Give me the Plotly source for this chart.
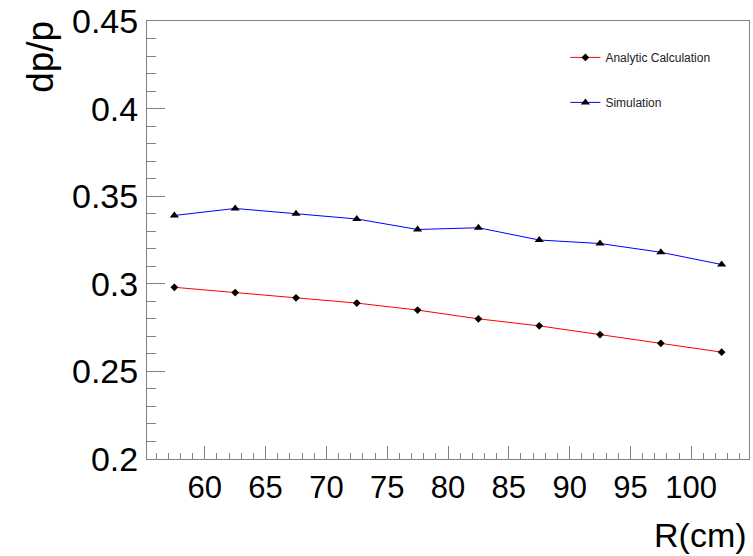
import plotly.graph_objects as go

# Momentum resolution versus radius
radius_cm = [57.5, 62.5, 67.5, 72.5, 77.5, 82.5, 87.5, 92.5, 97.5, 102.5]
analytic_dpp = [0.298, 0.295, 0.292, 0.289, 0.285, 0.280, 0.276, 0.271, 0.266, 0.261]
simulation_dpp = [0.339, 0.343, 0.340, 0.337, 0.331, 0.332, 0.325, 0.323, 0.318, 0.311]

x_range = [55.25, 104.75]
y_range = [0.2, 0.45]
x_ticks = [60, 65, 70, 75, 80, 85, 90, 95, 100]
y_ticks = [0.2, 0.25, 0.3, 0.35, 0.4, 0.45]
y_tick_text = ["0.2", "0.25", "0.3", "0.35", "0.4", "0.45"]

FONT = "Liberation Sans, Arial, Helvetica, sans-serif"
AXIS_COLOR = "#808080"

fig = go.Figure()

fig.add_trace(go.Scatter(
    x=radius_cm, y=analytic_dpp, mode="lines+markers",
    name="Analytic Calculation", legendgroup="a",
    line=dict(color="#ff0000", width=1),
    marker=dict(symbol="diamond", size=6, color="black"),
))
fig.add_trace(go.Scatter(
    x=radius_cm, y=simulation_dpp, mode="lines+markers",
    name="Simulation", legendgroup="s",
    line=dict(color="#0000ff", width=1),
    marker=dict(symbol="triangle-up", size=8, color="black"),
))

fig.update_layout(
    width=753, height=556,
    margin=dict(l=147, r=4, t=21, b=97),
    paper_bgcolor="white", plot_bgcolor="white",
    font=dict(family=FONT, color="black"),
    showlegend=True,
    legend=dict(
        x=0.695, y=0.95, xanchor="left", yanchor="top",
        bgcolor="rgba(0,0,0,0)", borderwidth=0,
        font=dict(size=12, color="#222"),
        traceorder="grouped", tracegroupgap=26,
        itemwidth=30,
    ),
)

fig.update_xaxes(
    range=x_range, tickmode="array", tickvals=x_ticks,
    ticks="inside", ticklen=13, tickcolor=AXIS_COLOR, tickwidth=1,
    minor=dict(dtick=1, ticks="inside", ticklen=6, tickcolor=AXIS_COLOR, tickwidth=1),
    showline=True, linecolor=AXIS_COLOR, linewidth=1, mirror=True,
    showgrid=False, zeroline=False, automargin=False,
    tickfont=dict(size=31, family=FONT, color="black"),
    ticklabelstandoff=1,
)
fig.update_yaxes(
    range=y_range, tickmode="array", tickvals=y_ticks, ticktext=y_tick_text,
    ticks="inside", ticklen=18, tickcolor=AXIS_COLOR, tickwidth=1,
    minor=dict(dtick=0.01, ticks="inside", ticklen=9, tickcolor=AXIS_COLOR, tickwidth=1),
    showline=True, linecolor=AXIS_COLOR, linewidth=1, mirror=True,
    showgrid=False, zeroline=False, automargin=False,
    tickfont=dict(size=34, family=FONT, color="black"),
    ticklabelstandoff=1,
)

fig.add_annotation(
    text="R(cm)", xref="paper", yref="paper", x=1.0, y=-0.173,
    xanchor="right", yanchor="middle", showarrow=False,
    font=dict(size=34, family=FONT, color="black"),
)
fig.add_annotation(
    text="dp/p", xref="paper", yref="paper", x=-0.176, y=1.005,
    xanchor="center", yanchor="top", textangle=-90, showarrow=False,
    font=dict(size=37, family=FONT, color="black"),
)

fig.write_html("out.html")
